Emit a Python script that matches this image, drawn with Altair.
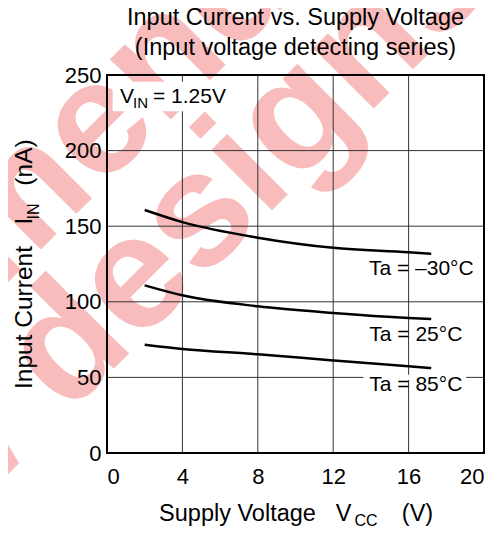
import altair as alt
import pandas as pd

# ---- data ----
vcc_m30 = [2, 4, 8, 12, 16, 17.2]
iin_m30 = [160.7, 152.7, 142.4, 135.7, 132.8, 131.8]
vcc_25 = [2, 4, 8, 12, 16, 17.2]
iin_25 = [110.9, 104.3, 97.0, 92.6, 89.3, 88.6]
vcc_85 = [2, 4, 8, 12, 16, 17.2]
iin_85 = [71.6, 68.8, 65.3, 61.2, 57.3, 56.2]
series_names = ["Ta = \u201330\u00b0C", "Ta = 25\u00b0C", "Ta = 85\u00b0C"]

x_ticks = [0, 4, 8, 12, 16, 20]
y_ticks = [0, 50, 100, 150, 200, 250]

label_x = [19.45, 18.85, 18.85]
label_y = [121.5, 78.3, 45.2]

title_lines = ["Input Current vs. Supply Voltage", "(Input voltage detecting series)"]

W, H = 377, 378
FONT = "Liberation Sans"

rows = []
for name, xs_, ys_ in [(series_names[0], vcc_m30, iin_m30),
                       (series_names[1], vcc_25, iin_25),
                       (series_names[2], vcc_85, iin_85)]:
    for xv, yv in zip(xs_, ys_):
        rows.append({"series": name, "vcc": xv, "iin": yv})
curves = pd.DataFrame(rows)
labels = pd.DataFrame({"series": series_names, "x": label_x, "y": label_y})
xgrid = pd.DataFrame({"v": x_ticks})
ygrid = pd.DataFrame({"v": y_ticks})

xs = alt.Scale(domain=[0, 20], nice=False, zero=False)
ys = alt.Scale(domain=[0, 250], nice=False, zero=False)


def txt(s, x, y, size, angle=0, color="black", weight="normal", align="center", opacity=1.0):
    return alt.Chart(pd.DataFrame({"t": [s]})).mark_text(
        font=FONT, fontSize=size, angle=angle, color=color, fontWeight=weight,
        align=align, baseline="middle", opacity=opacity
    ).encode(text="t:N", x=alt.value(x), y=alt.value(y))

# watermark (behind everything)
wm_color = "#f7a3a3"
WMF = 162
wm1 = txt("Not Recommended for", -749, 788, WMF, angle=315, color=wm_color, weight="bold",
          align="left", opacity=0.72)
wm2 = txt("designs", -75, 306, WMF, angle=315, color=wm_color, weight="bold",
          align="left", opacity=0.72)
wm3 = txt("New", -107, 338, WMF, angle=315, color=wm_color, weight="bold",
          align="right", opacity=0.72)

vgrid = alt.Chart(xgrid).mark_rule(color="#333333", strokeWidth=1).encode(
    x=alt.X("v:Q", scale=xs, axis=alt.Axis(values=x_ticks, grid=False, domain=False, ticks=False,
                                           labelFont=FONT, labelFontSize=22, labelPadding=13,
                                           labelColor="black", title=None, zindex=1)),
)
hgrid = alt.Chart(ygrid).mark_rule(color="#333333", strokeWidth=1).encode(
    y=alt.Y("v:Q", scale=ys, axis=alt.Axis(values=y_ticks, grid=False, domain=False, ticks=False,
                                           labelFont=FONT, labelFontSize=22, labelPadding=6,
                                           labelColor="black", title=None, zindex=1)),
)

# white boxes behind annotation texts
boxes = pd.DataFrame({"x1": [0.3, 13.6], "x2": [6.6, 19.05], "y1": [226, 48.3], "y2": [245.5, 51.7]})
box = alt.Chart(boxes).mark_rect(color="white").encode(
    x=alt.X("x1:Q", scale=xs), x2="x2:Q", y=alt.Y("y1:Q", scale=ys), y2="y2:Q")

lines = alt.Chart(curves).mark_line(color="black", strokeWidth=2.5, interpolate="monotone").encode(
    x=alt.X("vcc:Q", scale=xs), y=alt.Y("iin:Q", scale=ys), detail="series:N")

lab = alt.Chart(labels).mark_text(font=FONT, fontSize=21, align="right", baseline="middle",
                                  color="black").encode(
    x=alt.X("x:Q", scale=xs), y=alt.Y("y:Q", scale=ys), text="series:N")

border = alt.Chart(pd.DataFrame({"a": [0]})).mark_rect(fill=None, stroke="black", strokeWidth=2).encode(
    x=alt.value(0), x2=alt.value(W), y=alt.value(0), y2=alt.value(H))

# title lines
titles = [txt(title_lines[0], 188.5, -57, 23.5), txt(title_lines[1], 188.5, -27, 23.5)]

# V_IN annotation
vin = [txt("V", 13, 22, 21, align="left"), txt("IN", 26, 28, 15, align="left"),
       txt("= 1.25V", 46, 22, 21, align="left")]

# axis titles with subscripts
xtitle = [txt("Supply Voltage", 130.5, 439, 23.5), txt("V", 236.5, 439, 23.5),
          txt("CC", 259, 446, 16), txt("(V)", 310.5, 439, 23.5)]
ytitle = [txt("Input Current", -82, 242.5, 24.5, angle=270), txt("I", -82, 146, 24.5, angle=270),
          txt("IN", -73, 136.5, 16, angle=270), txt("(nA)", -82, 87.5, 24.5, angle=270)]

chart = alt.layer(
    wm1, wm2, wm3, vgrid, hgrid, box, lines, lab, border, *titles, *vin, *xtitle, *ytitle
).properties(
    width=W, height=H,
    autosize=alt.AutoSizeParams(type="none"),
    padding={"left": 99, "top": 67, "right": 10, "bottom": 75},
).configure_view(stroke=None)

chart.save("out.html", embed_options={"renderer": "svg", "actions": False})
